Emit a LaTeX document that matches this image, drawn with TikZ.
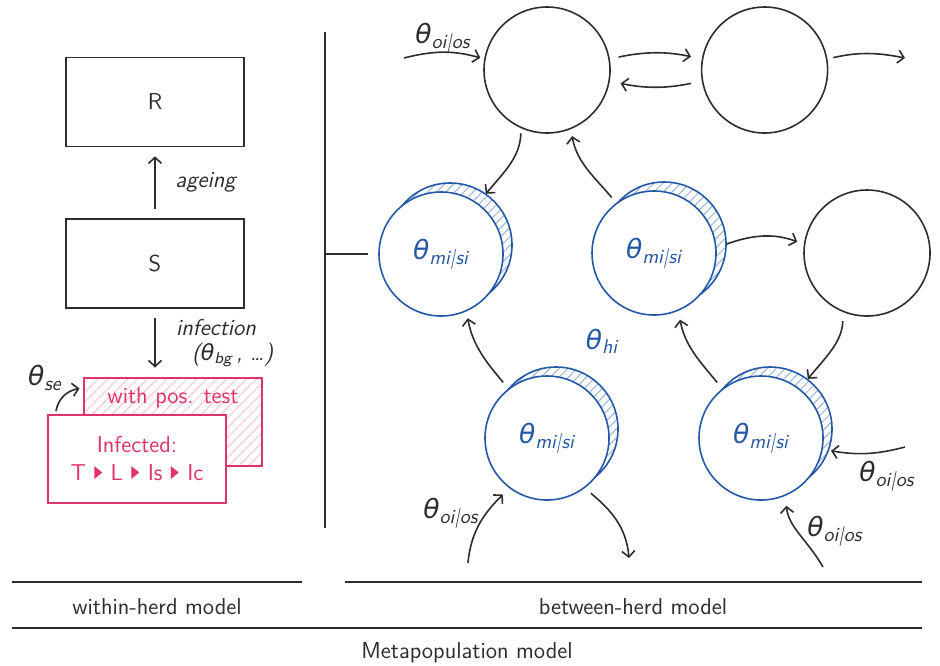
\documentclass[tikz,border=0pt]{standalone}
\usepackage{fontspec}
\usepackage{amssymb}
\usepackage{tikz}
\usetikzlibrary{positioning}
\usetikzlibrary{arrows.meta}
\usetikzlibrary{patterns.meta}

\renewcommand{\familydefault}{\sfdefault}
\newfontfamily\thetafont{DejaVu Sans}[Scale=0.92]

\definecolor{linegray}{RGB}{45,45,45}
\definecolor{herdblue}{RGB}{36,88,166}
\definecolor{hatchblue}{RGB}{150,180,220}
\definecolor{infpink}{RGB}{222,52,104}
\definecolor{hatchpink}{RGB}{246,196,212}

\newcommand{\tstep}{\ \raisebox{0.2ex}{\scalebox{0.55}[0.95]{$\blacktriangleright$}}\ }
\newcommand{\thpar}[1]{{\thetafont\itshape θ}\textsubscript{\itshape #1}}

\begin{document}
\fontsize{11.5}{14}\selectfont
\begin{tikzpicture}[
            x=0.5pt, y=0.5pt, color=linegray,
            >={Straight Barb[length=3pt, width=6.5pt]},
            comp/.style={rectangle, draw=linegray, thick, minimum width=89pt, minimum height=44.5pt, inner sep=0pt},
            infbox/.style={rectangle, draw=infpink, thick, text=infpink, minimum width=89pt, minimum height=44pt, inner sep=0pt},
            herd/.style={circle, draw=linegray, thick, minimum size=63pt, inner sep=0pt},
            bherd/.style={circle, draw=herdblue, thick, fill=white, text=herdblue, minimum size=62pt, inner sep=0pt, font=\Large},
            bhatch/.style={circle, draw=herdblue, thick, minimum size=62pt, pattern={Lines[angle=45, distance=3.2pt, line width=0.5pt]}, pattern color=hatchblue},
            flow/.style={->, thick, linegray},
            par/.style={font=\Large, text=linegray},
            sep/.style={-, thick, linegray}
        ]
            \useasboundingbox (0,0) rectangle (940,-665);

            % within-herd model
            \node[comp](rbox) at (155,-102){R};
                \node[comp](sbox)[below=35.5pt of rbox]{S};
            \node[infbox, pattern={Lines[angle=45, distance=3.5pt, line width=0.5pt]}, pattern color=hatchpink](posbox) at (173,-422){};
                \node[text=infpink](postxt) at (173,-398){with pos. test};
            \node[infbox, fill=white, align=center](inf) at (137,-459){Infected:\\[0pt] T\tstep L\tstep Is\tstep Ic};

            \draw[flow, shorten <=4.5pt, shorten >=4.5pt] (sbox) -- (rbox) node[midway, right=6pt, font=\itshape]{ageing};
            \draw[flow, shorten <=4.5pt, shorten >=5pt] (sbox.south) -- (sbox.south |- posbox.north);
            \node[anchor=west, font=\itshape](inflab) at (168,-328){infection};
            \node[anchor=west, font=\itshape](bglab) at (184,-355){({\large\thpar{bg}}\,, \dots)};

            \node[par](selab) at (45,-378){\thpar{se}};
            \coordinate (sestart) at (56,-411);
            \draw[flow] (sestart) to[out=80, in=190] ([xshift=-2pt, yshift=-5.5pt]posbox.north west);

            % separators
            \coordinate (vtop) at (325,-32);
            \coordinate (vbot) at (325,-528);
            \coordinate (vmid) at (325,-254);
            \coordinate (vend) at (368,-254);
            \draw[sep] (vtop) -- (vbot);
            \draw[sep] (vmid) -- (vend);

            % between-herd model
            \node[herd](ca) at (547,-70){};
                \node[herd](cb)[right=45pt of ca]{};
            \node[herd](cc) at (867,-253){};

            \node[bhatch](bahatch) at (450,-245){};
            \node[bhatch](bbhatch) at (664,-244){};
            \node[bhatch](bchatch) at (556,-429){};
            \node[bhatch](bdhatch) at (770,-429){};
            \node[bherd](ba) at (441,-254){\thpar{mi|si}};
            \node[bherd](bb) at (654,-253){\thpar{mi|si}};
            \node[bherd](bc) at (547,-438){\thpar{mi|si}};
            \node[bherd](bd) at (761,-438){\thpar{mi|si}};
            \node[par, text=herdblue](hilab) at (602,-341){\thpar{hi}};

            \coordinate (oitop) at (404,-58);
            \coordinate (outtop) at (905,-58);
            \coordinate (oiright) at (905,-447);
            \coordinate (oibelow) at (823,-567);
            \coordinate (oileft) at (468,-563);
            \coordinate (outbelow) at (629,-558);

            \draw[flow, shorten >=2pt] (oitop) to[bend left=15] (ca.170);
            \node[par](oitoplab) at (443,-38){\thpar{oi|os}};
            \draw[flow, shorten <=4.5pt, shorten >=5.5pt] (ca.10) to[bend left=12] (cb.170);
            \draw[flow, shorten <=5.5pt, shorten >=5.5pt] (cb.190) to[bend left=12] (ca.-10);
            \draw[flow, shorten <=3pt] (cb.10) to[bend left=12] (outtop);

            \draw[flow, shorten <=2.5pt] (ca.246) to[out=-92, in=50] (bahatch.55);
            \draw[flow, shorten <=3.5pt, shorten >=3.5pt] (bb.127) to[out=130, in=-80] (ca.292);
            \draw[flow, shorten <=4pt, shorten >=3.5pt] (bc.128) to[out=130, in=-80] (ba.294);
            \draw[flow, shorten <=4pt, shorten >=4.5pt] (bd.128) to[out=130, in=-80] (bb.293);
            \draw[flow, shorten >=3.5pt] (bbhatch.0) to[bend left=20] (cc.172);
            \draw[flow, shorten <=4.5pt] (cc.248) to[out=-92, in=50] (bdhatch.53);

            \draw[flow, shorten >=1pt] (oiright) to[bend left=12] (bdhatch.-20);
            \node[par](oirightlab) at (887,-476){\thpar{oi|os}};
            \draw[flow, shorten >=5pt] (oibelow) to[out=120, in=-85] (bd.293);
            \node[par](oibelowlab) at (835,-531){\thpar{oi|os}};
            \draw[flow, shorten >=4.5pt] (oileft) to[out=85, in=-135] (bc.233);
            \node[par](oileftlab) at (451,-513){\thpar{oi|os}};
            \draw[flow, shorten <=4pt] (bc.-53) to[out=-40, in=95] (outbelow);

            % model levels
            \coordinate (wl) at (12,-582);
            \coordinate (wr) at (302,-582);
            \coordinate (bl) at (345,-582);
            \coordinate (br) at (922,-582);
            \coordinate (ml) at (12,-628);
            \coordinate (mr) at (922,-628);
            \draw[sep] (wl) -- (wr);
            \draw[sep] (bl) -- (br);
            \draw[sep] (ml) -- (mr);
            \node(within) at (157,-607){within-herd model};
            \node(between) at (633,-607){between-herd model};
            \node(meta) at (467,-653){Metapopulation model};
        \end{tikzpicture}
\end{document}
